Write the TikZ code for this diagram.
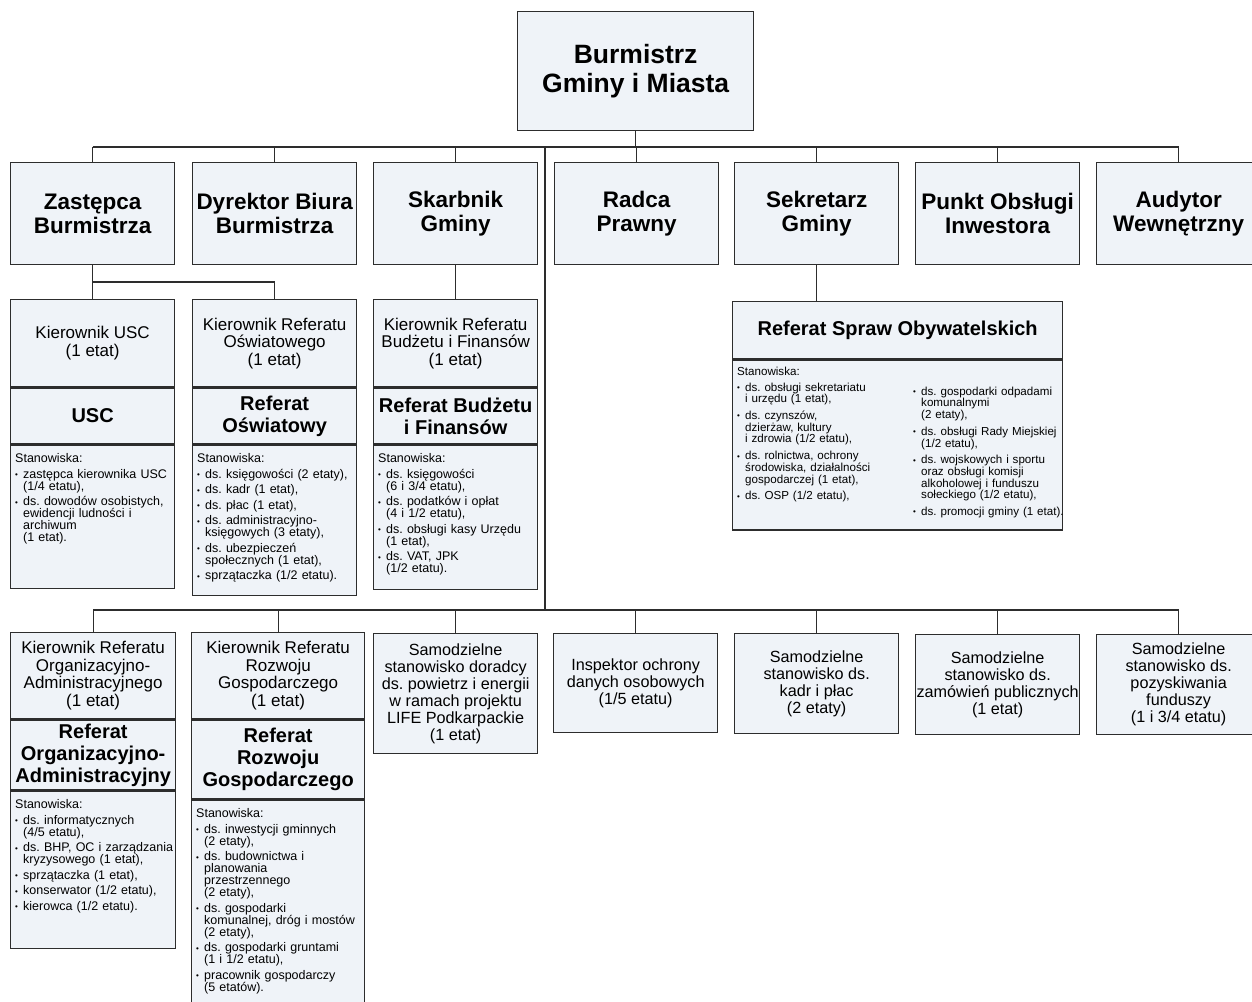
\documentclass[tikz,border=0pt]{standalone}
\usepackage{tikz}
\usepackage{fontspec}
\setmainfont{Liberation Sans}
\frenchspacing
\definecolor{boxfill}{RGB}{239,243,248}
\definecolor{linegray}{RGB}{45,45,45}
\newlength{\odstep}
\setlength{\odstep}{3.5pt}
\newcommand{\poz}[1]{\par\hangindent=8pt\hangafter=1\noindent\makebox[8pt][l]{\raisebox{0.6pt}{\fontsize{8}{8}\selectfont\textbullet}}{\let\\\newline#1}\par\vspace{\odstep}}

\begin{document}
\begin{tikzpicture}[x=1pt, y=-1pt,
  ramka/.style={draw=linegray, fill=boxfill, line width=1.3pt, inner sep=0pt, align=center, anchor=north west, minimum width=164pt},
  linia/.style={draw=linegray, line width=1.3pt},
  szef/.style={font=\fontsize{26.5}{28.5}\selectfont\bfseries},
  urzad/.style={font=\fontsize{22.5}{24}\selectfont\bfseries},
  kier/.style={font=\fontsize{17}{17.5}\selectfont},
  referat/.style={font=\fontsize{20}{22}\selectfont\bfseries},
  samo/.style={font=\fontsize{16.2}{17}\selectfont},
  lista/.style={anchor=north west, inner sep=0pt, align=left, text width=175pt, font=\fontsize{12.5}{12}\selectfont}]

  \fill[white] (0,0) rectangle (1252,1001);
  \useasboundingbox (0,0) rectangle (1252,1001);

  \node[ramka, szef, minimum width=236pt, minimum height=119pt] (burm) at (517,11) {Burmistrz\\Gminy i Miasta};

  \node[ramka, urzad, minimum height=102pt] (zast) at (10,162) {Zastępca\\Burmistrza};
  \node[ramka, urzad, minimum height=102pt] (dyr) at (192,162) {Dyrektor Biura\\Burmistrza};
  \node[ramka, urzad, minimum height=102pt] (skarb) at (373,162) {Skarbnik\\Gminy};
  \node[ramka, urzad, minimum height=102pt] (radca) at (554,162) {Radca\\Prawny};
  \node[ramka, urzad, minimum height=102pt] (sekr) at (734,162) {Sekretarz\\Gminy};
  \node[ramka, urzad, minimum height=102pt] (punkt) at (915,162) {Punkt Obsługi\\Inwestora};
  \node[ramka, urzad, minimum height=102pt] (audyt) at (1096,162) {Audytor\\Wewnętrzny};

  \node[ramka, kier, minimum height=87pt] (kusc) at (10,299) {Kierownik USC\\(1 etat)};
  \node[ramka, referat, minimum height=56pt] (usc) at (kusc.south west) {USC};
  \node[ramka, minimum height=143pt] (stusc) at (usc.south west) {};
  \node[lista] at ([shift={(5pt,-9pt)}]stusc.north west) {Stanowiska:\par\vspace{3.5pt}
    \poz{zastępca kierownika USC\\(1/4 etatu),}
    \poz{ds. dowodów osobistych,\\ewidencji ludności i\\archiwum\\(1 etat).}};

  \node[ramka, kier, minimum height=87pt] (kosw) at (192,299) {Kierownik Referatu\\Oświatowego\\(1 etat)};
  \node[ramka, referat, minimum height=56pt] (osw) at (kosw.south west) {Referat\\Oświatowy};
  \node[ramka, minimum height=150pt] (stosw) at (osw.south west) {};
  \node[lista] at ([shift={(5pt,-9pt)}]stosw.north west) {Stanowiska:\par\vspace{3.5pt}
    \poz{ds. księgowości (2 etaty),}
    \poz{ds. kadr (1 etat),}
    \poz{ds. płac (1 etat),}
    \poz{ds. administracyjno-\\księgowych (3 etaty),}
    \poz{ds. ubezpieczeń\\społecznych (1 etat),}
    \poz{sprzątaczka (1/2 etatu).}};

  \node[ramka, kier, minimum height=87pt] (kbud) at (373,299) {Kierownik Referatu\\Budżetu i Finansów\\(1 etat)};
  \node[ramka, referat, minimum height=56pt] (bud) at (kbud.south west) {Referat Budżetu\\i Finansów};
  \node[ramka, minimum height=144pt] (stbud) at (bud.south west) {};
  \node[lista] at ([shift={(5pt,-9pt)}]stbud.north west) {Stanowiska:\par\vspace{3.5pt}
    \poz{ds. księgowości\\(6 i 3/4 etatu),}
    \poz{ds. podatków i opłat\\(4 i 1/2 etatu),}
    \poz{ds. obsługi kasy Urzędu\\(1 etat),}
    \poz{ds. VAT, JPK\\(1/2 etatu).}};

  \node[ramka, referat, minimum width=330pt, minimum height=57pt] (rso) at (732,301) {Referat Spraw Obywatelskich};
  \node[ramka, minimum width=330pt, minimum height=170pt] (strso) at (rso.south west) {};
  \node[lista, font=\fontsize{11.6}{11.7}\selectfont] at ([shift={(5pt,-8pt)}]strso.north west) {\setlength{\odstep}{5pt}Stanowiska:\par\vspace{3.5pt}
    \poz{ds. obsługi sekretariatu\\i urzędu (1 etat),}
    \poz{ds. czynszów,\\dzierżaw, kultury\\i zdrowia (1/2 etatu),}
    \poz{ds. rolnictwa, ochrony\\środowiska, działalności\\gospodarczej (1 etat),}
    \poz{ds. OSP (1/2 etatu),}};
  \node[lista, font=\fontsize{11.6}{11.7}\selectfont] at ([shift={(181pt,-24pt)}]strso.north west) {\setlength{\odstep}{5pt}
    \poz{ds. gospodarki odpadami\\komunalnymi\\(2 etaty),}
    \poz{ds. obsługi Rady Miejskiej\\(1/2 etatu),}
    \poz{ds. wojskowych i sportu\\oraz obsługi komisji\\alkoholowej i funduszu\\sołeckiego (1/2 etatu),}
    \poz{ds. promocji gminy (1 etat).}};

  \node[ramka, kier, minimum width=165pt, minimum height=86pt] (korg) at (10,632) {Kierownik Referatu\\Organizacyjno-\\Administracyjnego\\(1 etat)};
  \node[ramka, referat, minimum width=165pt, minimum height=70pt] (org) at (korg.south west) {Referat\\Organizacyjno-\\Administracyjny};
  \node[ramka, minimum width=165pt, minimum height=157pt] (storg) at (org.south west) {};
  \node[lista] at ([shift={(5pt,-9pt)}]storg.north west) {Stanowiska:\par\vspace{3.5pt}
    \poz{ds. informatycznych\\(4/5 etatu),}
    \poz{ds. BHP, OC i zarządzania\\kryzysowego (1 etat),}
    \poz{sprzątaczka (1 etat),}
    \poz{konserwator (1/2 etatu),}
    \poz{kierowca (1/2 etatu).}};

  \node[ramka, kier, minimum width=173pt, minimum height=86pt] (kroz) at (191,632) {Kierownik Referatu\\Rozwoju\\Gospodarczego\\(1 etat)};
  \node[ramka, referat, minimum width=173pt, minimum height=79pt] (roz) at (kroz.south west) {Referat\\Rozwoju\\Gospodarczego};
  \node[ramka, minimum width=173pt, minimum height=203pt] (stroz) at (roz.south west) {};
  \node[lista] at ([shift={(5pt,-9pt)}]stroz.north west) {Stanowiska:\par\vspace{3.5pt}
    \poz{ds. inwestycji gminnych\\(2 etaty),}
    \poz{ds. budownictwa i\\planowania\\przestrzennego\\(2 etaty),}
    \poz{ds. gospodarki\\komunalnej, dróg i mostów\\(2 etaty),}
    \poz{ds. gospodarki gruntami\\(1 i 1/2 etatu),}
    \poz{pracownik gospodarczy\\(5 etatów).}};

  \node[ramka, samo, minimum height=120pt] (life) at (373,633) {Samodzielne\\stanowisko doradcy\\ds. powietrz i energii\\w ramach projektu\\LIFE Podkarpackie\\(1 etat)};
  \node[ramka, samo, minimum height=99pt] (iodo) at (553,633) {Inspektor ochrony\\danych osobowych\\(1/5 etatu)};
  \node[ramka, samo, minimum height=100pt] (kadr) at (734,633) {Samodzielne\\stanowisko ds.\\kadr i płac\\(2 etaty)};
  \node[ramka, samo, minimum height=100pt] (zamow) at (915,634) {Samodzielne\\stanowisko ds.\\zamówień publicznych\\(1 etat)};
  \node[ramka, samo, minimum height=100pt] (pozy) at (1096,634) {Samodzielne\\stanowisko ds.\\pozyskiwania\\funduszy\\(1 i 3/4 etatu)};

  \coordinate (bus) at (0,147);
  \coordinate (zbus) at (0,282);
  \coordinate (bus2) at (0,610);
  \coordinate (pion) at (545,147);

  \draw[linia] (burm.south) -- (burm.south |- bus);
  \draw[linia] (zast.north |- bus) -- (audyt.north |- bus);
  \foreach \n in {zast,dyr,skarb,radca,sekr,punkt,audyt}
    \draw[linia] (\n.north |- bus) -- (\n.north);
  \draw[linia] (zast.south) -- (kusc.north);
  \draw[linia] (zast.south |- zbus) -| (kosw.north);
  \draw[linia] (skarb.south) -- (kbud.north);
  \draw[linia] (sekr.south) -- (sekr.south |- rso.north);
  \draw[linia] (pion) -- (pion |- bus2);
  \draw[linia] (korg.north |- bus2) -- (pozy.north |- bus2);
  \foreach \n in {korg,kroz,life,iodo,kadr,zamow,pozy}
    \draw[linia] (\n.north |- bus2) -- (\n.north);
\end{tikzpicture}
\end{document}
